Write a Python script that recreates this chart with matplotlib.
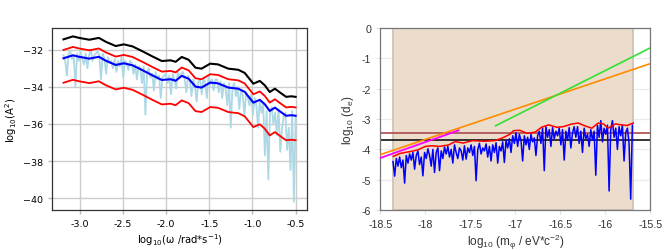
import numpy as np
import matplotlib
matplotlib.use("Agg")
import matplotlib.pyplot as plt
from matplotlib.ticker import FormatStrFormatter

plt.rcParams['mathtext.default'] = 'regular'
plt.rcParams['mathtext.rm'] = 'Liberation Sans'
plt.rcParams['mathtext.it'] = 'Liberation Sans'

# ---- left panel: spectrum (log10 omega vs log10 A^2) ----
w_smooth = [-3.19, -3.08, -3.01, -2.89, -2.78, -2.70, -2.585, -2.49, -2.39, -2.28,
            -2.16, -2.05, -1.95, -1.89, -1.82, -1.74, -1.66, -1.59, -1.49, -1.40,
            -1.28, -1.165, -1.09, -0.99, -0.915, -0.857, -0.80, -0.74, -0.68, -0.61,
            -0.55, -0.50]
a_mean = [-32.46, -32.30, -32.38, -32.48, -32.38, -32.59, -32.82, -32.73, -32.84, -33.09,
          -33.38, -33.63, -33.59, -33.67, -33.41, -33.56, -33.99, -34.04, -33.77, -33.81,
          -34.04, -34.10, -34.27, -34.85, -34.70, -34.94, -35.30, -35.12, -35.33, -35.56,
          -35.53, -35.56]
a_top = [-31.44, -31.28, -31.36, -31.46, -31.36, -31.57, -31.80, -31.71, -31.82, -32.07,
         -32.36, -32.61, -32.57, -32.65, -32.39, -32.54, -32.97, -33.02, -32.75, -32.79,
         -33.02, -33.08, -33.25, -33.83, -33.68, -33.92, -34.28, -34.10, -34.31, -34.54,
         -34.51, -34.54]
a_hi = [-32.01, -31.85, -31.93, -32.03, -31.93, -32.14, -32.37, -32.28, -32.39, -32.64,
        -32.93, -33.18, -33.14, -33.22, -32.96, -33.11, -33.54, -33.59, -33.32, -33.36,
        -33.59, -33.65, -33.82, -34.40, -34.25, -34.49, -34.85, -34.67, -34.88, -35.11,
        -35.08, -35.11]
a_lo = [-33.78, -33.62, -33.70, -33.80, -33.70, -33.91, -34.14, -34.05, -34.16, -34.41,
        -34.70, -34.95, -34.91, -34.99, -34.73, -34.88, -35.31, -35.36, -35.09, -35.13,
        -35.36, -35.42, -35.59, -36.17, -36.02, -36.26, -36.62, -36.44, -36.65, -36.88,
        -36.85, -36.88]

a_raw = [-32.3, -32.6, -33.4, -32.2, -32.1, -32.5, -32.3, -34.0, -32.2, -32.6,
         -32.1, -32.5, -32.8, -32.2, -33.0, -32.3, -32.0, -32.6, -32.3, -32.2,
         -32.1, -32.3, -33.6, -32.2, -32.5, -33.3, -32.4, -32.7, -32.6, -33.0,
         -32.5, -33.2, -32.6, -32.9, -32.4, -33.5, -32.6, -32.7, -33.1, -32.6,
         -32.7, -33.3, -32.8, -33.6, -32.9, -33.0, -33.8, -32.9, -35.5, -33.2,
         -33.0, -33.5, -33.3, -34.2, -33.2, -33.6, -33.4, -34.6, -33.5, -33.4,
         -33.3, -33.8, -33.4, -34.4, -33.3, -33.6, -34.1, -33.2, -33.5, -33.3,
         -33.2, -33.6, -34.3, -33.4, -33.7, -34.5, -33.6, -33.9, -34.8, -33.7,
         -33.6, -34.4, -33.5, -33.8, -34.6, -33.4, -33.9, -33.6, -34.2, -33.6,
         -33.6, -34.3, -33.7, -34.6, -33.8, -34.1, -35.0, -33.8, -36.2, -34.0,
         -33.8, -34.5, -34.0, -35.2, -34.2, -34.4, -35.6, -34.3, -34.6, -35.0,
         -34.4, -35.5, -34.6, -35.0, -36.2, -34.7, -35.4, -34.9, -37.7, -35.3,
         -39.0, -35.4, -35.1, -36.0, -35.4, -36.6, -35.2, -37.5, -36.3, -35.6,
         -35.4, -37.4, -36.2, -38.5, -35.3, -40.2, -35.6]
w_raw = np.linspace(-3.19, -0.50, len(a_raw))

# ---- right panel: coupling limits vs mass ----
m_data = np.linspace(-18.36, -15.70, 145)
d_data = [-4.40, -4.88, -4.30, -4.55, -4.25, -4.60, -4.35, -5.11, -4.20, -4.45, -4.15,
          -4.35, -4.10, -4.65, -4.20, -4.05, -4.50, -4.25, -4.87, -4.10, -4.30, -3.98,
          -4.20, -4.55, -4.00, -4.76, -4.10, -3.95, -4.70, -4.05, -4.30, -3.92, -4.15,
          -3.90, -4.25, -4.00, -4.45, -3.85, -4.10, -4.30, -3.95, -4.05, -4.35, -3.88,
          -4.32, -3.95, -4.10, -3.85, -4.20, -3.90, -5.03, -4.00, -3.80, -4.15, -3.95,
          -4.05, -3.82, -4.25, -3.90, -4.38, -3.85, -4.10, -3.78, -4.45, -3.90, -4.05,
          -3.75, -4.43, -3.70, -3.95, -3.65, -4.10, -3.55, -3.80, -3.45, -3.90, -3.50,
          -3.70, -4.38, -3.55, -3.85, -3.60, -4.00, -3.50, -3.75, -3.62, -4.20, -3.55,
          -3.40, -3.80, -3.30, -4.70, -3.25, -3.60, -3.35, -3.90, -3.28, -3.65, -3.40,
          -3.55, -3.30, -3.85, -3.35, -4.35, -3.40, -3.70, -3.28, -3.95, -3.45, -3.25,
          -3.60, -3.25, -3.80, -3.40, -4.10, -3.30, -3.65, -3.50, -3.90, -3.35, -3.70,
          -3.40, -4.85, -3.20, -3.60, -3.05, -3.75, -3.30, -3.50, -3.20, -5.37, -3.35,
          -3.05, -3.60, -3.30, -4.00, -3.25, -3.55, -3.20, -4.38, -3.45, -3.30, -3.80,
          -5.64, -3.20]
m_env = [-18.356, -18.28, -18.15, -18.08, -18.0, -17.93, -17.84, -17.74, -17.67, -17.58,
         -17.48, -17.34, -17.23, -17.15, -17.06, -17.02, -16.95, -16.87, -16.78, -16.71,
         -16.63, -16.54, -16.47, -16.37, -16.30, -16.23, -16.15, -16.08, -16.02, -15.97,
         -15.89, -15.82, -15.76, -15.69]
d_env = [-4.23, -4.13, -4.06, -4.01, -3.90, -3.88, -3.90, -3.85, -3.74, -3.79,
         -3.71, -3.73, -3.71, -3.63, -3.50, -3.38, -3.37, -3.47, -3.43, -3.27,
         -3.19, -3.27, -3.25, -3.16, -3.13, -3.22, -3.30, -3.13, -3.16, -3.30,
         -3.16, -3.19, -3.21, -3.13]
m_orange = [-18.5, -15.5]
d_orange = [-4.17, -1.17]
m_green = [-17.22, -15.5]
d_green = [-3.22, -0.65]
m_magenta = [-18.5, -17.63]
d_magenta = [-4.28, -3.37]
d_brown = -3.45
d_black = -3.70
m_region = [-18.36, -15.69]

fig = plt.figure(figsize=(6.65, 2.51), dpi=100)

# left
ax1 = fig.add_axes([0.078, 0.159, 0.384, 0.725])
ax1.plot(w_raw, a_raw, color='lightblue', lw=1.3)
ax1.plot(w_smooth, a_top, color='black', lw=1.5)
ax1.plot(w_smooth, a_hi, color='red', lw=1.3)
ax1.plot(w_smooth, a_mean, color='blue', lw=1.5)
ax1.plot(w_smooth, a_lo, color='red', lw=1.3)
ax1.set_xticks([-3.0, -2.5, -2.0, -1.5, -1.0, -0.5])
ax1.set_yticks([-32, -34, -36, -38, -40])
ax1.xaxis.set_major_formatter(FormatStrFormatter('%.1f'))
ax1.grid(True, color='#cccccc', lw=1.0)
ax1.set_axisbelow(True)
ax1.tick_params(labelsize=6.8, length=3, color='#bbbbbb', width=1.0)
for s in ax1.spines.values():
    s.set_color('#333333')
    s.set_linewidth(0.9)
ax1.set_xlabel('log$_{10}$(ω /rad*s$^{-1}$)', fontsize=7.2, labelpad=2,
               math_fontfamily='dejavusans')
ax1.set_ylabel('log$_{10}$(A$^{2}$)', fontsize=7.2, labelpad=3,
               math_fontfamily='dejavusans')

# right
ax2 = fig.add_axes([0.572, 0.159, 0.406, 0.725])
ax2.axvspan(m_region[0], m_region[1], facecolor='#ecdccb', edgecolor='#cfc3b8', lw=1.3, zorder=1)
ax2.axhline(d_brown, color='#b05555', lw=1.3, zorder=2)
ax2.axhline(d_black, color='black', lw=1.1, zorder=2)
ax2.plot(m_data, d_data, color='blue', lw=1.1, zorder=3)
ax2.plot(m_env, d_env, color='red', lw=1.1, zorder=4)
ax2.plot(m_orange, d_orange, color='darkorange', lw=1.2, zorder=4)
ax2.plot(m_green, d_green, color='#33e033', lw=1.2, zorder=4)
ax2.plot(m_magenta, d_magenta, color='magenta', lw=1.3, zorder=4)
ax2.set_xlim(-18.5, -15.5)
ax2.set_ylim(-6, 0)
ax2.set_xticks([-18.5, -18, -17.5, -17, -16.5, -16, -15.5])
ax2.set_yticks([0, -1, -2, -3, -4, -5, -6])
ax2.set_xticklabels(['-18.5', '-18', '-17.5', '-17', '-16.5', '-16', '-15.5'],
                    family='Liberation Sans')
ax2.set_yticklabels(['0', '-1', '-2', '-3', '-4', '-5', '-6'], family='Liberation Sans')
ax2.grid(True, color='#ebebeb', lw=0.9)
ax2.set_axisbelow(True)
ax2.tick_params(labelsize=7.7, length=3, color='#e0e0e0', labelcolor='#333333')
for s in ax2.spines.values():
    s.set_color('#777777')
    s.set_linewidth(0.9)
ax2.set_xlabel('log$_{10}$ (m$_{φ}$ / eV*c$^{-2}$)', fontsize=8.5, family='Liberation Sans',
               color='#333333', labelpad=2, math_fontfamily='custom')
ax2.set_ylabel('log$_{10}$ (d$_{e}$)', fontsize=8.5, family='Liberation Sans',
               color='#333333', labelpad=4, math_fontfamily='custom')

fig.savefig('out.png', dpi=100)
